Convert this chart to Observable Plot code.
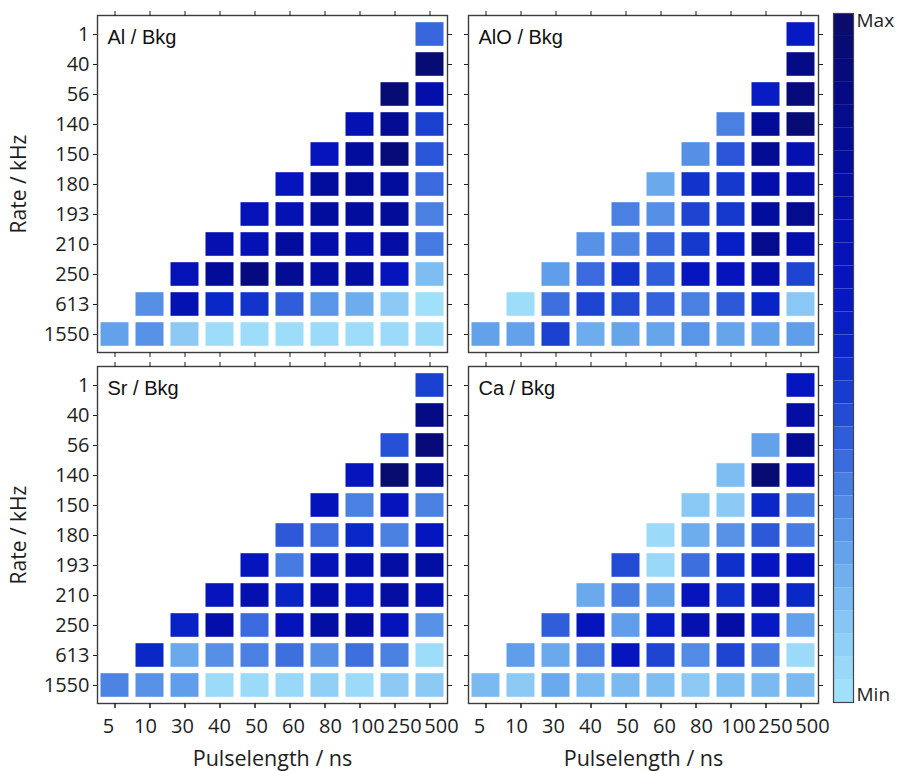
<!DOCTYPE html>
<html><head><meta charset="utf-8">
<script src="https://cdn.jsdelivr.net/npm/d3@7"></script>
<script src="https://cdn.jsdelivr.net/npm/@observablehq/plot@0.6"></script>
<style>
 body{margin:0;background:#fff;}
 #wrap{position:relative;width:899px;height:771px;overflow:hidden;}
 #main{position:absolute;left:0;top:0;}
 #bar{position:absolute;left:833px;top:0;}
</style></head><body><div id="wrap"><div id="main"></div><div id="bar"></div></div>
<script>
const rates = ["1","40","56","140","150","180","193","210","250","613","1550"];
const pulses = ["5","10","30","40","50","60","80","100","250","500"];
const panelTitles = ["Al / Bkg","AlO / Bkg","Sr / Bkg","Ca / Bkg"];
const yTitle = "Rate / kHz";
const xTitle = "Pulselength / ns";
const _ = null;
const alBkg = [
 [_,_,_,_,_,_,_,_,_,0.36],
 [_,_,_,_,_,_,_,_,_,0.95],
 [_,_,_,_,_,_,_,_,0.95,0.72],
 [_,_,_,_,_,_,_,0.68,0.82,0.44],
 [_,_,_,_,_,_,0.62,0.78,0.93,0.40],
 [_,_,_,_,_,0.62,0.78,0.80,0.78,0.35],
 [_,_,_,_,0.65,0.68,0.78,0.78,0.80,0.31],
 [_,_,_,0.70,0.68,0.78,0.72,0.70,0.75,0.32],
 [_,_,0.65,0.80,0.90,0.82,0.76,0.76,0.62,0.14],
 [_,0.27,0.68,0.50,0.47,0.38,0.25,0.19,0.10,0.02],
 [0.22,0.26,0.10,0.03,0.03,0.03,0.04,0.03,0.04,0.04]
];
const aloBkg = [
 [_,_,_,_,_,_,_,_,_,0.58],
 [_,_,_,_,_,_,_,_,_,0.88],
 [_,_,_,_,_,_,_,_,0.56,0.92],
 [_,_,_,_,_,_,_,0.31,0.80,0.95],
 [_,_,_,_,_,_,0.27,0.40,0.82,0.70],
 [_,_,_,_,_,0.20,0.47,0.46,0.72,0.72],
 [_,_,_,_,0.31,0.27,0.43,0.46,0.78,0.85],
 [_,_,_,0.26,0.30,0.36,0.46,0.55,0.85,0.72],
 [_,_,0.23,0.35,0.47,0.38,0.60,0.62,0.72,0.43],
 [_,0.03,0.34,0.43,0.42,0.37,0.31,0.39,0.52,0.11],
 [0.22,0.22,0.44,0.19,0.21,0.21,0.25,0.21,0.22,0.23]
];
const srBkg = [
 [_,_,_,_,_,_,_,_,_,0.44],
 [_,_,_,_,_,_,_,_,_,0.88],
 [_,_,_,_,_,_,_,_,0.41,0.93],
 [_,_,_,_,_,_,_,0.62,0.97,0.82],
 [_,_,_,_,_,_,0.64,0.31,0.62,0.31],
 [_,_,_,_,_,0.39,0.35,0.50,0.31,0.60],
 [_,_,_,_,0.63,0.32,0.66,0.70,0.75,0.76],
 [_,_,_,0.62,0.70,0.52,0.72,0.60,0.75,0.70],
 [_,_,0.53,0.72,0.35,0.64,0.76,0.74,0.64,0.26],
 [_,0.50,0.20,0.27,0.31,0.34,0.27,0.34,0.31,0.03],
 [0.30,0.26,0.23,0.04,0.04,0.05,0.08,0.04,0.10,0.10]
];
const caBkg = [
 [_,_,_,_,_,_,_,_,_,0.60],
 [_,_,_,_,_,_,_,_,_,0.75],
 [_,_,_,_,_,_,_,_,0.22,0.82],
 [_,_,_,_,_,_,_,0.14,0.95,0.72],
 [_,_,_,_,_,_,0.11,0.10,0.50,0.32],
 [_,_,_,_,_,0.04,0.19,0.26,0.39,0.32],
 [_,_,_,_,0.42,0.05,0.34,0.48,0.60,0.62],
 [_,_,_,0.20,0.32,0.23,0.62,0.48,0.66,0.50],
 [_,_,0.38,0.62,0.23,0.55,0.70,0.75,0.58,0.22],
 [_,0.23,0.20,0.31,0.60,0.43,0.28,0.43,0.32,0.04],
 [0.15,0.10,0.20,0.15,0.15,0.14,0.10,0.14,0.15,0.15]
];
const colorStops = [0.02,0.10,0.18,0.25,0.31,0.35,0.40,0.44,0.50,0.60,0.70,0.80,0.90,1.00];
const colorRange = ["#a0e0fa","#8ccaf5","#70b0ee","#5a96e8","#4a80e2","#3a6ade","#2a55d8","#1a40d0","#0a28c8","#0515c0","#0410b0","#030c98","#050a80","#0a0c68"];
const barLevels = d3.range(30);

const matrices = [alBkg, aloBkg, srBkg, caBkg];
const cells = [];
matrices.forEach((m, p) => {
  m.forEach((row, r) => row.forEach((v, c) => {
    if (v !== null) cells.push({fx: p % 2, fy: Math.floor(p / 2), rate: rates[r], pulse: pulses[c], value: v});
  }));
});
const titles = panelTitles.map((t, i) => ({t, fx: i % 2, fy: Math.floor(i / 2)}));
const yTitles = [0, 1].map(fy => ({t: yTitle, fx: 0, fy}));
const xTitles = [0, 1].map(fx => ({t: xTitle, fx, fy: 1}));

const colorScale = {type: "linear", domain: colorStops, range: colorRange, interpolate: "rgb", clamp: true};
const tickOnly = () => "";

const main = Plot.plot({
  width: 899, height: 771,
  marginLeft: 97, marginRight: 81, marginTop: 14, marginBottom: 68,
  style: {fontFamily: "'Open Sans', sans-serif", fontSize: "20px", color: "#1e1e1e", background: "#fff"},
  fx: {domain: [0, 1], paddingInner: 0.057, paddingOuter: 0, axis: null},
  fy: {domain: [0, 1], paddingInner: 0.04, paddingOuter: 0, axis: null},
  x: {type: "band", domain: pulses, padding: 0},
  y: {type: "band", domain: rates, padding: 0},
  color: colorScale,
  marks: [
    Plot.cell(cells, {x: "pulse", y: "rate", fx: "fx", fy: "fy", fill: "value",
      insetLeft: 3.5, insetRight: 3.5, insetTop: 3.2, insetBottom: 3.2}),
    Plot.frame({stroke: "#3c3c3c", strokeWidth: 1.4}),
    Plot.axisX({anchor: "top", facetAnchor: null, tickSize: 5, tickFormat: tickOnly, label: null}),
    Plot.axisX({anchor: "bottom", facetAnchor: null, tickSize: 5, tickFormat: tickOnly, label: null}),
    Plot.axisY({anchor: "left", facetAnchor: null, tickSize: 4, tickFormat: tickOnly, label: null}),
    Plot.axisY({anchor: "right", facetAnchor: null, tickSize: 4, tickFormat: tickOnly, label: null}),
    Plot.axisX({anchor: "bottom", tickSize: 5, tickPadding: 10, fontSize: 20, label: null}),
    Plot.axisY({anchor: "left", tickSize: 4, tickPadding: 4, fontSize: 20, label: null}),
    Plot.text(titles, {fx: "fx", fy: "fy", text: "t", frameAnchor: "top-left", dx: 10, dy: 14,
      lineAnchor: "top", textAnchor: "start", fontFamily: "'Liberation Sans', Arial, sans-serif", fontSize: 20, fill: "#111"}),
    Plot.text(yTitles, {fx: "fx", fy: "fy", text: "t", frameAnchor: "left", dx: -78, rotate: -90,
      textAnchor: "middle", lineAnchor: "middle", fontSize: 21, fill: "#1e1e1e"}),
    Plot.text(xTitles, {fx: "fx", fy: "fy", text: "t", frameAnchor: "bottom", dy: 56,
      textAnchor: "middle", lineAnchor: "middle", fontSize: 21.5, fill: "#1e1e1e"})
  ]
});
// spread the x tick labels slightly wider than the ticks, as in the original figure
d3.select(main).selectAll('g[aria-label="x-axis tick label"] text').each(function() {
  const i = pulses.indexOf(this.textContent);
  if (i < 0) return;
  const off = -6.5 + i * 2.0;
  const t = this.getAttribute("transform") || "";
  this.setAttribute("transform", `translate(${off},0) ${t}`);
});
document.getElementById("main").appendChild(main);

const bar = Plot.plot({
  width: 66, height: 771,
  marginLeft: 0, marginRight: 46, marginTop: 13, marginBottom: 69,
  style: {fontFamily: "'Open Sans', sans-serif", fontSize: "19px", color: "#1e1e1e", background: "transparent", overflow: "visible"},
  x: {domain: [0, 1], axis: null},
  y: {domain: [0, 1], axis: null},
  color: colorScale,
  marks: [
    Plot.rect(barLevels, {x1: () => 0, x2: () => 1, y1: d => d / barLevels.length, y2: d => (d + 1) / barLevels.length,
      fill: d => (d + 0.5) / barLevels.length}),
    Plot.frame({stroke: "#444", strokeWidth: 1.2}),
    Plot.text(["Max"], {frameAnchor: "top-right", dx: 3, dy: 0, text: d => d, textAnchor: "start", lineAnchor: "top", fontSize: 19}),
    Plot.text(["Min"], {frameAnchor: "bottom-right", dx: 3, dy: -2, text: d => d, textAnchor: "start", lineAnchor: "bottom", fontSize: 19})
  ]
});
document.getElementById("bar").appendChild(bar);
</script></body></html>
